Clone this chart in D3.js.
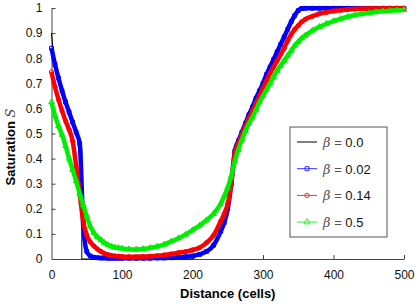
<!DOCTYPE html>
<html>
<head>
<meta charset="utf-8">
<script src="https://cdn.jsdelivr.net/npm/d3@7"></script>
<style>
body { margin: 0; background: #fff; }
svg { display: block; font-family: "Liberation Sans", Arial, sans-serif; }
</style>
</head>
<body>
<svg></svg>
<script>
const width = 419
const height = 304

// distance (cells) where the curves were read
const cells = [0, 5, 10, 15, 20, 25, 30, 35, 40, 45, 50, 55, 60, 65, 70, 75, 80, 85, 90, 95, 100,
	110, 120, 130, 140, 150, 160, 170, 180, 190, 200, 210, 220, 230, 240,
	245, 250, 255, 260, 265, 270, 275, 280, 285, 290, 295, 300, 305, 310, 315, 320, 325, 330, 335, 340, 345, 350, 355, 360,
	370, 380, 390, 400, 410, 420, 430, 440, 450, 460, 470, 480, 490, 500]

const beta002 = [0.84, 0.775, 0.72, 0.67, 0.625, 0.585, 0.545, 0.505, 0.46, 0.14, 0.03, 0.012, 0.007, 0.005, 0.004, 0.004, 0.003, 0.003, 0.003, 0.003, 0.003,
	0.003, 0.003, 0.003, 0.003, 0.004, 0.004, 0.005, 0.006, 0.009, 0.012, 0.018, 0.03, 0.055, 0.11,
	0.145, 0.2, 0.3, 0.43, 0.47, 0.505, 0.54, 0.575, 0.605, 0.64, 0.67, 0.70, 0.735, 0.765, 0.795, 0.825, 0.855, 0.885, 0.915, 0.945, 0.97, 0.99, 0.998, 0.999,
	0.999, 0.999, 0.999, 0.999, 0.999, 0.999, 0.999, 0.999, 0.999, 0.999, 0.999, 0.999, 0.999, 0.999]

const beta014 = [0.745, 0.685, 0.635, 0.59, 0.55, 0.515, 0.47, 0.37, 0.26, 0.15, 0.095, 0.068, 0.052, 0.04, 0.03, 0.022, 0.017, 0.014, 0.012, 0.011, 0.01,
	0.009, 0.009, 0.01, 0.011, 0.013, 0.016, 0.02, 0.025, 0.029, 0.036, 0.045, 0.065, 0.095, 0.15,
	0.18, 0.22, 0.30, 0.42, 0.46, 0.495, 0.53, 0.56, 0.59, 0.62, 0.65, 0.68, 0.71, 0.74, 0.765, 0.79, 0.815, 0.84, 0.87, 0.895, 0.915, 0.93, 0.945, 0.955,
	0.967, 0.977, 0.983, 0.988, 0.991, 0.994, 0.996, 0.997, 0.998, 0.998, 0.999, 0.999, 0.999, 0.999]

const beta05 = [0.625, 0.57, 0.53, 0.495, 0.45, 0.40, 0.355, 0.31, 0.26, 0.215, 0.17, 0.13, 0.105, 0.088, 0.076, 0.065, 0.056, 0.05, 0.046, 0.044, 0.042,
	0.039, 0.038, 0.04, 0.044, 0.05, 0.058, 0.07, 0.083, 0.097, 0.115, 0.133, 0.155, 0.18, 0.22,
	0.25, 0.285, 0.33, 0.39, 0.435, 0.475, 0.51, 0.54, 0.565, 0.595, 0.625, 0.65, 0.675, 0.70, 0.725, 0.75, 0.77, 0.79, 0.81, 0.83, 0.85, 0.865, 0.88, 0.89,
	0.91, 0.925, 0.937, 0.948, 0.957, 0.965, 0.971, 0.976, 0.98, 0.984, 0.987, 0.989, 0.991, 0.992]

// beta = 0 has sharp fronts, so it keeps its own positions
const cells0 = [0, 2, 5, 10, 15, 20, 25, 30, 35, 40, 43, 43, 200, 210, 220, 230, 240, 250, 255, 260, 270, 290, 310, 330, 345, 353, 500]
const beta0 = [0.9, 0.84, 0.785, 0.725, 0.675, 0.63, 0.59, 0.55, 0.51, 0.47, 0.44, 0, 0, 0.018, 0.03, 0.055, 0.11, 0.2, 0.3, 0.43, 0.505, 0.64, 0.765, 0.885, 0.97, 1, 1]

const xTicks = [0, 100, 200, 300, 400, 500]
const yTicks = [0, 0.1, 0.2, 0.3, 0.4, 0.5, 0.6, 0.7, 0.8, 0.9, 1]
const legendLabels = ['0.0', '0.02', '0.14', '0.5']

const margin = { left: 51.5, right: 15, top: 8, bottom: 45 }

const svg = d3.select('svg')
	.attr('width', width)
	.attr('height', height)

const x = d3.scaleLinear().domain([0, 500]).range([margin.left, width - margin.right])
const y = d3.scaleLinear().domain([0, 1]).range([height - margin.bottom, margin.top])

// axes, ticks pointing inward
const xAxis = svg.append('g')
	.attr('transform', 'translate(0,' + y(0) + ')')
	.call(d3.axisBottom(x).tickValues(xTicks).tickSize(-4).tickPadding(11).tickSizeOuter(0))
const yAxis = svg.append('g')
	.attr('transform', 'translate(' + x(0) + ',0)')
	.call(d3.axisLeft(y).tickValues(yTicks).tickSize(-4).tickPadding(9).tickSizeOuter(0).tickFormat(d3.format('')))

svg.selectAll('.domain, .tick line').attr('stroke', '#444')
svg.selectAll('.tick text').attr('font-size', 12).attr('fill', '#111')
	.attr('font-family', '"Liberation Sans", Arial, sans-serif')
xAxis.selectAll('.tick line').filter(d => d === 0).remove()
yAxis.selectAll('.tick line').filter(d => d === 0).remove()

svg.append('text')
	.attr('x', x(250))
	.attr('y', 298)
	.attr('text-anchor', 'middle')
	.attr('font-size', 13)
	.attr('font-weight', 'bold')
	.text('Distance (cells)')

const ylab = svg.append('text')
	.attr('transform', 'translate(15,147) rotate(-90)')
	.attr('text-anchor', 'middle')
	.attr('font-size', 13)
	.attr('font-weight', 'bold')
ylab.append('tspan').text('Saturation ')
ylab.append('tspan')
	.attr('font-family', '"DejaVu Serif", serif')
	.attr('font-style', 'italic')
	.attr('font-weight', 'normal')
	.attr('fill', '#444')
	.text('S')

const series = [
	{ values: beta002, color: '#0000ff', marker: d3.symbolSquare, size: 14 },
	{ values: beta014, color: '#ff0000', marker: d3.symbolCircle, size: 14 },
	{ values: beta05, color: '#00ee00', marker: d3.symbolTriangle, size: 14 }
]

const line = d3.line()
	.x(d => x(d[0]))
	.y(d => y(d[1]))
	.curve(d3.curveMonotoneX)

const plot = svg.append('g')

// beta = 0 sits underneath the other curves
plot.append('path')
	.attr('d', d3.line().x(d => x(d[0])).y(d => y(d[1]))(cells0.map((c, i) => [c, beta0[i]])))
	.attr('fill', 'none')
	.attr('stroke', '#000')
	.attr('stroke-width', 1)

series.forEach(function (s) {
	const pts = cells.map((c, i) => [c, s.values[i]])
	plot.append('path')
		.attr('d', line(pts))
		.attr('fill', 'none')
		.attr('stroke', s.color)
		.attr('stroke-width', 4.5)
		.attr('stroke-linejoin', 'round')
	plot.append('g')
		.selectAll('path')
		.data(pts)
		.enter()
		.append('path')
		.attr('transform', d => 'translate(' + x(d[0]) + ',' + y(d[1]) + ')')
		.attr('d', d3.symbol().type(s.marker).size(s.size))
		.attr('fill', 'none')
		.attr('stroke', s.color)
		.attr('stroke-width', 1)
})

// legend
const legend = svg.append('g').attr('transform', 'translate(290,127)')
legend.append('rect')
	.attr('width', 97)
	.attr('height', 110)
	.attr('fill', '#fff')
	.attr('stroke', '#555')

const legendItems = [
	{ color: '#000', marker: null },
	{ color: '#3333ff', marker: d3.symbolSquare },
	{ color: '#ff3333', marker: d3.symbolCircle },
	{ color: '#33ee33', marker: d3.symbolTriangle }
]

legendItems.forEach(function (it, i) {
	const ly = 15 + i * 26.7
	const g = legend.append('g').attr('transform', 'translate(0,' + ly + ')')
	g.append('line')
		.attr('x1', 7).attr('x2', 27)
		.attr('stroke', it.color)
		.attr('stroke-width', 1)
	if (it.marker) {
		g.append('path')
			.attr('transform', 'translate(17,0)')
			.attr('d', d3.symbol().type(it.marker).size(16))
			.attr('fill', 'none')
			.attr('stroke', it.color)
	}
	const t = g.append('text')
		.attr('x', 33)
		.attr('y', 5)
		.attr('font-size', 13)
	t.append('tspan')
		.attr('font-family', '"DejaVu Serif", serif')
		.attr('font-style', 'italic')
		.attr('fill', '#555')
		.text('β')
	t.append('tspan').attr('fill', '#555').text(' = ')
	t.append('tspan').attr('fill', '#111').text(legendLabels[i])
})
</script>
</body>
</html>
